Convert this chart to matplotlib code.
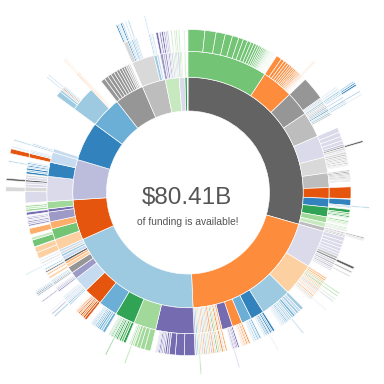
import matplotlib
matplotlib.use("Agg")
import matplotlib.pyplot as plt
from matplotlib.patches import Wedge

# d3 category20c
PALETTE = ["#3182bd", "#6baed6", "#9ecae1", "#c6dbef",
           "#e6550d", "#fd8d3c", "#fdae6b", "#fdd0a2",
           "#31a354", "#74c476", "#a1d99b", "#c7e9c0",
           "#756bb1", "#9e9ac8", "#bcbddc", "#dadaeb",
           "#636363", "#969696", "#bdbdbd", "#d9d9d9"]
B, MB, LB, LLB, DO, O, LO, P, G, MG, LG, LLG, PU, MPU, LPU, LLPU, DG, GR, LGR, LLGR = range(20)

# funding in $M, nodes are (value, category, children)
sec_1 = [
    (7371, MG, [(v, MG) for v in [1340, 894, 737, 581, 514, 380, 357, 290, 246, 223, 179, 156, 134,
                                  123, 112, 101, 89, 78, 67, 67, 56, 56, 45, 45, 34, 34,
                                  22, 22, 22, 22, 22, 22, 22, 22, 22, 22, 22, 22]]),
    (2904, O, [(447, O), (268, O), (223, O), (201, O), (179, O), (156, O), (156, O), (134, O),
               (134, O), (112, O), (112, O), (101, O), (89, O), (78, O), (67, O, [(67, P)]),
               (67, O, [(56, LO)]), (56, O), (45, O), (45, O), (34, O)]),
    (2234, GR, [(1899, GR), (89, LB, [(67, LB)]), (89, LGR), (67, B, [(56, B)]), (67, GR)]),
    (2345, LGR, [(134, LB, [(112, LB, [(89, LB)])]), (112, LGR, [(89, LB, [(89, B)])]),
                 (134, LLGR, [(112, LLB, [(112, B)])]), (112, LGR), (134, LB, [(112, LLB)]),
                 (112, LGR), (134, MB, [(112, LB, [(89, LB)])]), (112, LLGR, [(89, LLB)]),
                 (134, LB, [(89, LB, [(67, LLB)])]), (112, LGR)]),
    (2010, LLPU, [(402, LLPU), (357, LLPU), (335, LLPU), (290, LLPU), (156, LPU),
                  (134, GR, [(134, DG)]), (179, LLGR), (112, LLPU), (89, LGR)]),
    (1452, LLGR, [(179, LLGR), (134, LGR), (134, LLGR), (112, LGR), (112, LLGR), (112, LGR),
                  (89, LLGR), (89, GR), (89, LLGR), (67, LGR)]),
    (1340, LGR, [(112, LGR), (112, GR), (112, LGR), (89, GR), (89, LGR), (89, GR), (89, LGR),
                 (67, GR), (67, LGR), (67, GR)]),
    (983, DO, [(938, DO)]),
    (804, B, [(491, B), (89, LB, [(89, LB)]), (67, B)]),
    (894, G, [(268, G), (134, MG), (112, LG), (112, G), (89, LG), (67, LLG)]),
    (536, LG, [(134, LG), (112, LLG), (89, LG), (67, LLG)]),
    (424, LLG, [(89, LG), (89, LLG), (67, LG), (67, GR)]),
    (380, LGR, [(112, LGR, [(89, GR)]), (67, MPU, [(67, MPU)]), (89, GR, [(67, LGR)]), (112, LGR)]),
]

sec_2 = [
    (3462, LLPU, [(335, LLPU), (290, LLPU), (268, LLPU), (268, LLPU), (223, LLPU), (223, LLPU),
                  (201, LGR), (179, GR, [(179, DG)]), (179, LLPU), (156, LGR, [(134, LGR)]),
                  (156, LLPU), (134, LGR, [(112, LLGR)]), (134, LLPU), (112, LLPU)]),
    (3015, P, [(179, P), (134, LO), (134, P), (112, LG, [(89, LG)]), (112, P), (89, G, [(89, LG)]),
               (112, P), (89, LO), (89, LG, [(67, LG)]), (112, P), (89, MPU, [(67, MPU)]), (112, P),
               (89, LLB), (112, P), (89, P), (89, LLPU), (112, LO), (89, P), (89, LB, [(67, LLB)]),
               (89, P), (67, LLPU)]),
    (2859, LB, [(268, LB), (223, LLB), (201, LB), (179, LLB), (179, MB), (156, LB),
                (156, LLB, [(112, LLB)]), (134, LB), (134, LLB), (112, MB), (112, LB), (112, LLB),
                (89, LB), (89, LLB), (67, LB), (67, LLB)]),
    (1229, B, [(179, B), (112, MB), (134, B), (89, LB), (112, B, [(67, LLB)]), (89, MB), (89, B),
               (67, LB), (67, MB)]),
    (938, MB, [(134, MB), (89, LB), (112, MB), (89, LLB), (89, MB), (67, LB), (67, MB)]),
    (916, O, [(134, O), (89, LO), (112, O), (89, P), (89, O), (67, LO), (67, O), (67, P)]),
    (983, PU, [(134, PU), (112, MPU), (89, PU), (89, LPU), (89, PU, [(67, MPU)]), (67, MPU)]),
    (179, LO, [(134, LO)]), (134, LLPU, [(112, LLPU)]), (156, O, [(134, O)]), (112, LG, [(89, LG)]),
    (156, P, [(134, P)]), (134, MG, [(112, MG)]), (134, LLPU, [(112, LLPU)]), (179, LO, [(134, LO)]),
    (134, LPU, [(112, LPU)]), (156, P, [(134, P)]), (112, LG, [(89, LG)]), (156, LLB, [(134, LLB)]),
    (134, LO, [(112, LO)]), (156, LLPU, [(134, LLPU)]), (134, P, [(112, P)]),
    (112, LG, [(89, LG, [(89, LG)])]), (134, LB, [(112, LB)]), (156, LPU, [(134, LPU)]),
]

sec_3 = [
    (3529, PU, [(849, PU), (715, PU), (491, PU), (179, MPU), (156, PU), (134, MPU), (134, LPU),
                (112, MPU), (112, PU), (89, MPU), (89, LPU), (67, MPU)]),
    (2055, LG, [(491, LG), (357, LG), (290, LG), (223, LG), (156, LLG), (134, LG, [(89, LG)]),
                (112, LLG)]),
    (1832, G, [(223, G), (179, MG), (156, G), (134, LG), (134, G), (112, MG),
               (112, G, [(89, MG)]), (112, LLG), (89, G), (89, MG), (67, LG), (67, G)]),
    (1765, MB, [(223, MB), (179, LB), (156, MB), (134, MB), (134, LB), (112, MB), (112, LLB),
                (89, MB), (89, LB), (67, MB)]),
    (1698, DO, [(201, DO), (156, DO), (134, O), (134, DO), (112, LO), (112, DO), (89, O), (89, DO),
                (67, LO), (67, P)]),
    (1385, LLB, [(156, LLB), (134, LB, [(112, LB)]), (112, LLB), (112, LLPU, [(89, MPU)]),
                 (112, LLB), (89, LB, [(67, LLB)]), (89, LLB), (89, LLPU)]),
    (648, MPU, [(134, MPU), (112, LPU, [(89, MPU)]), (89, MPU), (89, LLPU)]),
    (603, GR, [(134, LGR, [(112, LGR)]), (89, B, [(89, B)]), (112, LLGR, [(89, LGR)]),
               (89, LB, [(67, LB)])]),
    (335, P, [(179, P)]),
    (223, LO, [(112, LO)]),
    (223, DG, [(112, DG)]),
    (335, LLB, [(112, LB)]),
    (223, LB, [(89, LLB, [(67, LB)])]),
    (223, LLGR, [(89, LGR)]),
    (223, LLB, [(89, LLB)]),
]

sec_4 = [
    (1005, P, [(514, P), (447, P)]),
    (1005, MG, [(558, MG), (223, LLG)]),
    (670, LO, [(491, LO)]),
    (894, MPU, [(156, MPU), (134, LPU), (134, MPU), (112, LLPU), (112, MPU), (112, LPU)]),
    (290, PU, [(223, PU)]),
    (670, LG, [(179, LG), (156, LLG), (134, LG)]),
]

sec_5 = [
    (2301, LLPU, [(894, LLPU), (380, LLGR, [(335, LLGR)]), (223, LLPU), (179, LLPU),
                  (156, DG, [(156, DG)]), (223, LLPU), (156, LLGR)]),
    (1296, B, [(179, B), (134, LB), (156, B), (112, LLB), (112, B), (89, LB, [(89, LB)]),
               (112, MB), (89, LLB)]),
    (937, LLB, [(335, DO, [(335, DO)]), (112, LLB), (89, LB, [(67, LB)]), (89, LLB)]),
]

sec_6 = [
    (335, LLB, [(112, LB, [(89, LB)]), (112, LLB)]),
]

sec_7 = [
    (2345, LB, [(447, LB), (179, LB), (112, LLB, [(89, LLB)]), (89, DO), (112, LB, [(89, LLB)]),
                (89, LLB)]),
    (89, LO, [(89, LO, [(67, P)])]), (67, P, [(67, P)]), (89, LO, [(67, LO, [(56, P)])]), (67, P),
]

sec_8 = [(402, GR), (357, GR), (335, GR), (313, GR), (290, GR), (268, GR), (246, GR), (223, GR),
         (201, GR), (179, LGR), (156, LGR), (134, LLGR)]

sec_9 = [
    (2077, LLGR, [(335, LLGR, [(112, B), (89, LB), (89, LLB)]), (112, B, [(112, B)]),
                  (112, LB, [(89, LB)]), (112, LLB), (134, LB, [(89, LLB)]), (89, MB),
                  (112, LLB, [(89, LB)]), (89, LB)]),
    (268, LB, [(112, LB, [(89, LLB)]), (89, LLB)]),
    (179, LLB, [(89, LB)]),
]

sec_10 = [(268, MPU, [(179, PU)]), (179, LPU, [(134, MPU)]), (179, MPU, [(134, PU)]),
          (134, LLPU, [(112, MPU)]), (134, MPU, [(112, LPU)]), (112, LPU, [(89, MPU)]),
          (179, LLPU), (134, LLG, [(89, LG)]), (134, LLPU), (112, LG, [(89, LG)])]

sec_11 = [(223, LLPU, [(112, LLG)]), (112, LG, [(89, LG)]), (112, LLG)]
sec_12 = [(134, LLG, [(89, LLG)])]

ring_1 = [(23676, DG, sec_1), (15970, O, sec_2), (15300, LB, sec_3), (4534, DO, sec_4),
          (4534, LPU, sec_5), (4400, B, sec_6), (3507, MB, sec_7), (3283, GR, sec_8),
          (2658, LGR, sec_9), (1564, LLG, sec_10), (648, LLPU, sec_11), (246, G, sec_12),
          (90, LLGR)]

TOTAL = sum(n[0] for n in ring_1)
CX, CY, R0 = 188, 192.5, 81.5


def draw(ax, nodes, start, depth):
    a = start
    for node in nodes:
        value, cat = node[0], node[1]
        span = value / TOTAL * 360.0
        r_in = R0 * depth ** 0.5
        r_out = R0 * (depth + 1) ** 0.5
        ax.add_patch(Wedge((CX, CY), r_out, a - 90, a + span - 90, width=r_out - r_in,
                           facecolor=PALETTE[cat], edgecolor="white", linewidth=0.45))
        if len(node) > 2:
            draw(ax, node[2], a, depth + 1)
        a += span


fig = plt.figure(figsize=(3.84, 3.84), dpi=100)
ax = fig.add_axes([0, 0, 1, 1])
ax.set_xlim(0, 384)
ax.set_ylim(384, 0)
ax.axis("off")

draw(ax, ring_1, 0.0, 1)

ax.text(187, 203.5, r"\$%.2fB" % (TOTAL / 1000), ha="center", va="baseline",
        fontsize=17.5, color="#555555", family="Liberation Sans")
ax.text(187.5, 225, "of funding is available!", ha="center", va="baseline",
        fontsize=7.4, color="#555555", family="Liberation Sans")

fig.savefig("out.png", dpi=100, facecolor="white")
